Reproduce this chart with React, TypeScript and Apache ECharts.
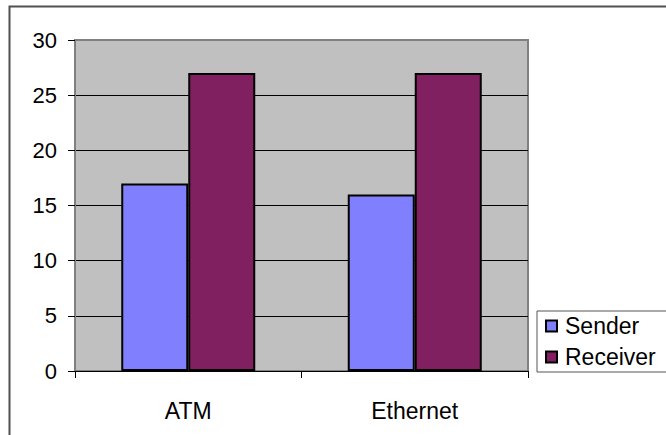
import React, { useEffect, useRef } from "react";
import * as echarts from "echarts";

const categories = ["ATM", "Ethernet"];
const senderValues = [17, 16];
const receiverValues = [27, 27];
const seriesNames = ["Sender", "Receiver"];

export default function App() {
  const ref = useRef<HTMLDivElement>(null);
  useEffect(() => {
    if (!ref.current) return;
    const chart = echarts.init(ref.current, undefined, { renderer: "svg" });
    const font = "Arial, 'Liberation Sans', Helvetica, sans-serif";
    chart.setOption({
      animation: false,
      backgroundColor: "#ffffff",
      textStyle: { fontFamily: font },
      graphic: [
        {
          type: "rect",
          shape: { x: 9.5, y: 6.5, width: 720, height: 520 },
          style: { fill: "none", stroke: "#505050", lineWidth: 2 },
          silent: true,
          z: -1,
        },
      ],
      grid: {
        left: 75,
        top: 40,
        right: 138,
        bottom: 64,
        show: true,
        backgroundColor: "#C0C0C0",
        borderColor: "#808080",
        borderWidth: 2,
      },
      legend: {
        orient: "vertical",
        left: 537,
        top: 311,
        padding: [2, 18, 2, 8],
        itemGap: 5,
        itemWidth: 11,
        itemHeight: 11,
        icon: "rect",
        backgroundColor: "#ffffff",
        borderColor: "#555555",
        borderWidth: 1,
        textStyle: {
          fontSize: 23,
          lineHeight: 26,
          color: "#000",
          fontFamily: font,
          padding: [0, 0, 0, 3],
        },
        data: seriesNames,
      },
      xAxis: {
        type: "category",
        data: categories,
        axisLine: { show: true, lineStyle: { color: "#000", width: 1 } },
        axisTick: { show: true, length: 7, lineStyle: { color: "#000" } },
        axisLabel: { fontSize: 23, color: "#000", margin: 28, fontFamily: font },
        splitLine: { show: false },
      },
      yAxis: {
        type: "value",
        min: 0,
        max: 30,
        interval: 5,
        axisLine: { show: true, lineStyle: { color: "#808080", width: 2 } },
        axisTick: { show: true, length: 7, lineStyle: { color: "#000" } },
        axisLabel: { fontSize: 22, color: "#000", margin: 18, fontFamily: font },
        splitLine: {
          show: true,
          lineStyle: {
            color: ["#000", "#000", "#000", "#000", "#000", "#000", "#808080"],
            width: 1,
          },
        },
      },
      series: [
        {
          name: seriesNames[0],
          type: "bar",
          data: senderValues,
          barWidth: 67,
          barGap: "0%",
          itemStyle: { color: "#8080FF", borderColor: "#000", borderWidth: 2 },
        },
        {
          name: seriesNames[1],
          type: "bar",
          data: receiverValues,
          barWidth: 67,
          barGap: "0%",
          itemStyle: { color: "#802060", borderColor: "#000", borderWidth: 2 },
        },
      ],
    });
    return () => chart.dispose();
  }, []);
  return (
    <div
      ref={ref}
      style={{ position: "fixed", left: 0, top: 0, width: 666, height: 435 }}
    />
  );
}
